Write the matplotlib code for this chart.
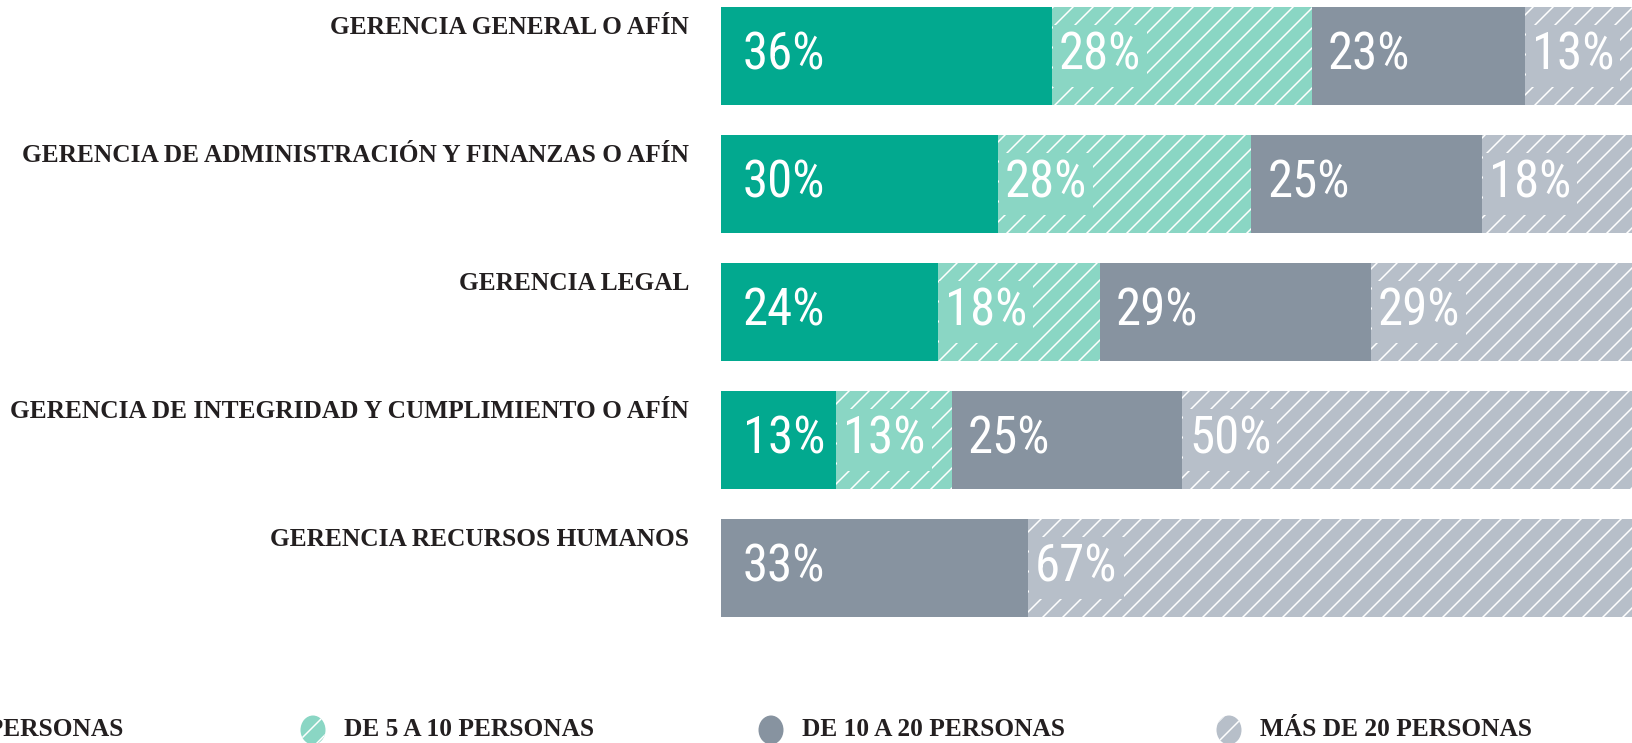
import matplotlib
matplotlib.use("Agg")
import matplotlib.pyplot as plt
from matplotlib import font_manager
from matplotlib.patches import Ellipse
import numpy as np

# ---------------- data ----------------
categories = [
    "GERENCIA GENERAL O AFÍN",
    "GERENCIA DE ADMINISTRACIÓN Y FINANZAS O AFÍN",
    "GERENCIA LEGAL",
    "GERENCIA DE INTEGRIDAD Y CUMPLIMIENTO O AFÍN",
    "GERENCIA RECURSOS HUMANOS",
]
series_names = ["DE 1 A 5 PERSONAS", "DE 5 A 10 PERSONAS",
                "DE 10 A 20 PERSONAS", "MÁS DE 20 PERSONAS"]
de_1_a_5 = [35.9, 30.0, 23.5, 12.5, 0.0]
de_5_a_10 = [28.2, 27.5, 17.6, 12.5, 0.0]
de_10_a_20 = [23.1, 25.0, 29.4, 25.0, 33.3]
mas_de_20 = [12.8, 17.5, 29.4, 50.0, 66.7]
series = [de_1_a_5, de_5_a_10, de_10_a_20, mas_de_20]

colors = ["#02A98F", "#8AD6C4", "#8793A0", "#B7BFC9"]
hatches = [None, "//", None, "//"]

# ---------------- layout ----------------
W, H, DPI = 1632, 743, 120
plt.rcParams["hatch.color"] = "white"
plt.rcParams["hatch.linewidth"] = 0.9

avail = {f.name for f in font_manager.fontManager.ttflist}
num_family = "DejaVu Sans"
for cand in ["Roboto Condensed", "Liberation Sans Narrow", "DejaVu Sans"]:
    if cand in avail:
        num_family = cand
        break
num_font = font_manager.FontProperties(family=[num_family, "DejaVu Sans"],
                                       stretch="condensed", size=30.5)
lab_font = font_manager.FontProperties(family=["Liberation Serif", "DejaVu Serif"],
                                       weight="bold", size=15.2)
text_color = "#231F20"

fig = plt.figure(figsize=(W / DPI, H / DPI), dpi=DPI)
fig.patch.set_facecolor("white")

# legend layer (pixel coordinates)
axl = fig.add_axes([0, 0, 1, 1])
axl.set_xlim(0, W)
axl.set_ylim(H, 0)
axl.axis("off")

# main bar axes
top_px, bottom_px = 0, 632
ax = fig.add_axes([721 / W, 1 - bottom_px / H, 922 / W, (bottom_px - top_px) / H])
ax.set_xlim(0, 100)
ax.set_ylim(4.5, -0.4375)
ax.axis("off")

y = np.arange(len(categories))
bar_h = 0.766
left = np.zeros(len(categories))
for k, vals in enumerate(series):
    vals = np.asarray(vals, dtype=float)
    ax.barh(y, vals, left=left, height=bar_h, color=colors[k],
            hatch=hatches[k],
            edgecolor="white" if hatches[k] else colors[k], linewidth=0)
    for i in range(len(categories)):
        v, l = vals[i], left[i]
        if v <= 0:
            continue
        if l == 0:
            off = 22
        elif hatches[k]:
            off = 7
        else:
            off = 16
        bbox = (dict(boxstyle="square,pad=0.12", fc=colors[k], ec="none")
                if hatches[k] else None)
        ax.annotate(f"{int(v + 0.5)}%", xy=(l, y[i]), xytext=(off, 0),
                    textcoords="offset pixels", ha="left", va="center",
                    color="white", fontproperties=num_font, bbox=bbox)
    left += vals

# category labels
for i, cat in enumerate(categories):
    ax.annotate(cat, xy=(0, y[i] - bar_h / 2), xytext=(-32, -21),
                textcoords="offset pixels", ha="right", va="center",
                color=text_color, fontproperties=lab_font, annotation_clip=False)

# legend
leg_start, leg_step, leg_y = -145, 458, 730
for k, name in enumerate(series_names):
    cx = leg_start + k * leg_step
    axl.add_patch(Ellipse((cx, leg_y), 25, 29, facecolor=colors[k],
                          hatch=hatches[k],
                          edgecolor="white" if hatches[k] else colors[k],
                          linewidth=0))
    axl.text(cx + 31, leg_y, name, ha="left", va="center",
             color=text_color, fontproperties=lab_font)

fig.savefig("out.png", dpi=DPI, facecolor="white")
